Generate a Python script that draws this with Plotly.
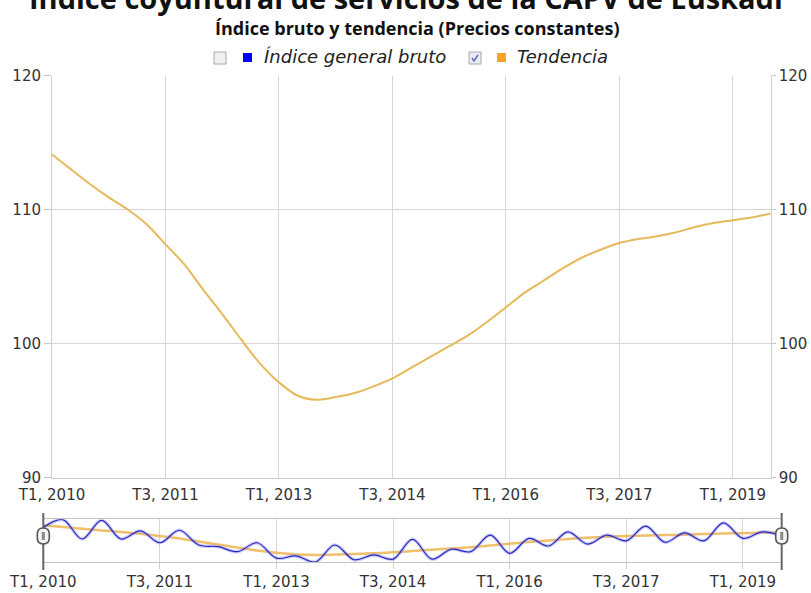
import plotly.graph_objects as go

W, H = 811, 593

quarters = [f"T{q}, {y}" for y in range(2010, 2020) for q in (1, 2, 3, 4)][:39]
tick_labels = ["T1, 2010", "T3, 2011", "T1, 2013", "T3, 2014", "T1, 2016", "T3, 2017", "T1, 2019"]

trend = [114.1, 113.0, 111.9, 110.9, 110.0, 108.9, 107.4, 105.9, 104.0, 102.2,
         100.3, 98.5, 97.1, 96.1, 95.8, 96.0, 96.3, 96.8, 97.4, 98.2,
         99.0, 99.8, 100.6, 101.6, 102.7, 103.8, 104.7, 105.6, 106.4, 107.0,
         107.5, 107.8, 108.0, 108.3, 108.7, 109.0, 109.2, 109.4, 109.7]

raw = [112.7, 117.6, 105.6, 117.1, 105.6, 110.6, 103.3, 111.0, 101.9, 100.9,
       97.8, 103.3, 93.8, 95.2, 91.4, 101.9, 92.8, 95.8, 93.2, 105.4,
       93.2, 99.3, 97.8, 108.0, 96.8, 106.0, 101.3, 110.0, 102.5, 108.0,
       104.5, 113.5, 103.6, 109.4, 104.5, 115.5, 106.0, 110.0, 107.4]

title = "Índice coyuntural de servicios de la CAPV de Euskadi"
subtitle = "Índice bruto y tendencia (Precios constantes)"
series_names = ["Índice general bruto", "Tendencia"]


def px(x):
    return x / W


def py(y):
    return (H - y) / H


TREND_C = "#e6b95a"
BLUE_C = "#2a2ab8"
LABEL_FONT = dict(family="DejaVu Sans", size=15, color="#333333")

fig = go.Figure()

# main chart
fig.add_trace(go.Scatter(x=quarters, y=raw, name=series_names[0], visible=False,
                         line=dict(color="#0000ff"), xaxis="x", yaxis="y"))
fig.add_trace(go.Scatter(x=quarters, y=trend, name=series_names[1], mode="lines",
                         line=dict(color=TREND_C, width=2, shape="spline", smoothing=0.8),
                         xaxis="x", yaxis="y", hoverinfo="x+y"))
fig.add_trace(go.Scatter(x=quarters, y=trend, mode="lines", showlegend=False,
                         line=dict(color="rgba(0,0,0,0)", width=0),
                         xaxis="x", yaxis="y2", hoverinfo="skip"))

# navigator
fig.add_trace(go.Scatter(x=quarters, y=trend, mode="lines", showlegend=False,
                         line=dict(color="rgba(236,180,80,0.85)", width=2.5, shape="spline"),
                         xaxis="x2", yaxis="y3", hoverinfo="skip"))
fig.add_trace(go.Scatter(x=quarters, y=raw, mode="lines", showlegend=False,
                         line=dict(color="rgba(140,140,255,0.45)", width=3.5, shape="spline", smoothing=1.0),
                         xaxis="x2", yaxis="y3", hoverinfo="skip"))
fig.add_trace(go.Scatter(x=quarters, y=raw, mode="lines", showlegend=False,
                         line=dict(color=BLUE_C, width=1.2, shape="spline", smoothing=1.0),
                         xaxis="x2", yaxis="y3", hoverinfo="skip"))

main_x = [px(52), px(770.7)]
main_y = [py(477.5), py(75.5)]
nav_x = [px(43.3), px(781.7)]
nav_y = [py(562.3), py(519.3)]

yr = [min(raw) - 0.15, max(raw) + 0.15]

fig.update_layout(
    width=W, height=H, autosize=False,
    margin=dict(l=0, r=0, t=0, b=0, pad=0, autoexpand=False),
    paper_bgcolor="white", plot_bgcolor="white",
    showlegend=False,
    xaxis=dict(domain=main_x, type="category", range=[0, len(quarters) - 1],
               tickmode="array", tickvals=tick_labels, ticktext=tick_labels,
               showgrid=True, gridcolor="#d6d6d6", gridwidth=1,
               showline=True, linecolor="#cfcfcf", mirror=False,
               ticks="outside", ticklen=3, tickcolor="rgba(0,0,0,0)",
               tickfont=LABEL_FONT, zeroline=False, fixedrange=True, anchor="y",
               automargin=False),
    yaxis=dict(domain=main_y, range=[90, 120], dtick=10, tick0=90,
               showgrid=True, gridcolor="#d6d6d6", gridwidth=1,
               showline=True, linecolor="#cfcfcf",
               ticks="outside", ticklen=7, tickcolor="#c8c8c8",
               tickfont=LABEL_FONT, zeroline=False, anchor="x", automargin=False),
    yaxis2=dict(overlaying="y", side="right", range=[90, 120], dtick=10, tick0=90,
                showgrid=False, showline=True, linecolor="#cfcfcf",
                ticks="outside", ticklen=4, tickcolor="#c8c8c8",
                tickfont=LABEL_FONT, zeroline=False, anchor="x", automargin=False),
    xaxis2=dict(domain=nav_x, type="category", range=[0, len(quarters) - 1],
                tickmode="array", tickvals=tick_labels, ticktext=tick_labels,
                showgrid=True, gridcolor="#d6d6d6",
                showline=True, linecolor="#c4c4c4", mirror=True,
                ticks="outside", ticklen=6, tickcolor="#d0d0d0",
                tickfont=LABEL_FONT, zeroline=False, anchor="y3", automargin=False),
    yaxis3=dict(domain=nav_y, range=yr, visible=False, showgrid=False,
                zeroline=False, anchor="x2", automargin=False),
)

annotations = [
    dict(text=f"<b>{title}</b>", x=px(406), y=py(-3), xref="paper", yref="paper",
         xanchor="center", yanchor="middle", showarrow=False,
         font=dict(family="Open Sans", size=29, color="#111111")),
    dict(text=f"<b>{subtitle}</b>", x=px(417), y=py(28), xref="paper", yref="paper",
         xanchor="center", yanchor="middle", showarrow=False,
         font=dict(family="Open Sans", size=18, color="#111111")),
    dict(text=f"<i>{series_names[0]}</i>", x=px(262), y=py(56), xref="paper", yref="paper",
         xanchor="left", yanchor="middle", showarrow=False,
         font=dict(family="DejaVu Sans", size=18, color="#222222")),
    dict(text=f"<i>{series_names[1]}</i>", x=px(515), y=py(56), xref="paper", yref="paper",
         xanchor="left", yanchor="middle", showarrow=False,
         font=dict(family="DejaVu Sans", size=18, color="#222222")),
]

shapes = []
# legend checkboxes
for x0, checked in ((214, False), (469, True)):
    shapes.append(dict(type="rect", xref="paper", yref="paper",
                       x0=px(x0), x1=px(x0 + 12), y0=py(64), y1=py(52),
                       line=dict(color="#a8a8a8", width=1),
                       fillcolor="#e9ecf5" if checked else "#f0f0f0", layer="above"))
    if checked:
        shapes.append(dict(type="path", xref="paper", yref="paper",
                           xsizemode="pixel", ysizemode="pixel",
                           xanchor=px(x0 + 6), yanchor=py(58),
                           path="M -3,0 L -1,-3 L 3,3",
                           line=dict(color="#5a6aa8", width=1.4), layer="above"))
# legend colour squares
for x0, col in ((243, "#0000ff"), (497, "#f4a428")):
    shapes.append(dict(type="rect", xref="paper", yref="paper",
                       x0=px(x0), x1=px(x0 + 9), y0=py(62), y1=py(53),
                       line=dict(width=0), fillcolor=col, layer="above"))

# navigator handles
for hx in (43.3, 781.7):
    shapes.append(dict(type="line", xref="paper", yref="paper",
                       x0=px(hx), x1=px(hx), y0=py(570), y1=py(513),
                       line=dict(color="#666666", width=2), layer="above"))
    shapes.append(dict(type="path", xref="paper", yref="paper",
                       xsizemode="pixel", ysizemode="pixel",
                       xanchor=px(hx), yanchor=py(536),
                       path="M -6,-2 L -6,2 Q -6,8 0,8 Q 6,8 6,2 L 6,-2 Q 6,-8 0,-8 Q -6,-8 -6,-2 Z",
                       line=dict(color="#555555", width=1.6), fillcolor="#f4f4f4", layer="above"))
    shapes.append(dict(type="rect", xref="paper", yref="paper",
                       xsizemode="pixel", ysizemode="pixel",
                       xanchor=px(hx), yanchor=py(536),
                       x0=-1.5, x1=1.5, y0=-4, y1=4,
                       line=dict(width=0), fillcolor="#888888", layer="above"))

fig.update_layout(annotations=annotations, shapes=shapes)

fig.write_html("out.html",
               config={"displayModeBar": False},
               post_script="document.body.style.margin='0';"
                           "document.documentElement.style.overflow='hidden';")
